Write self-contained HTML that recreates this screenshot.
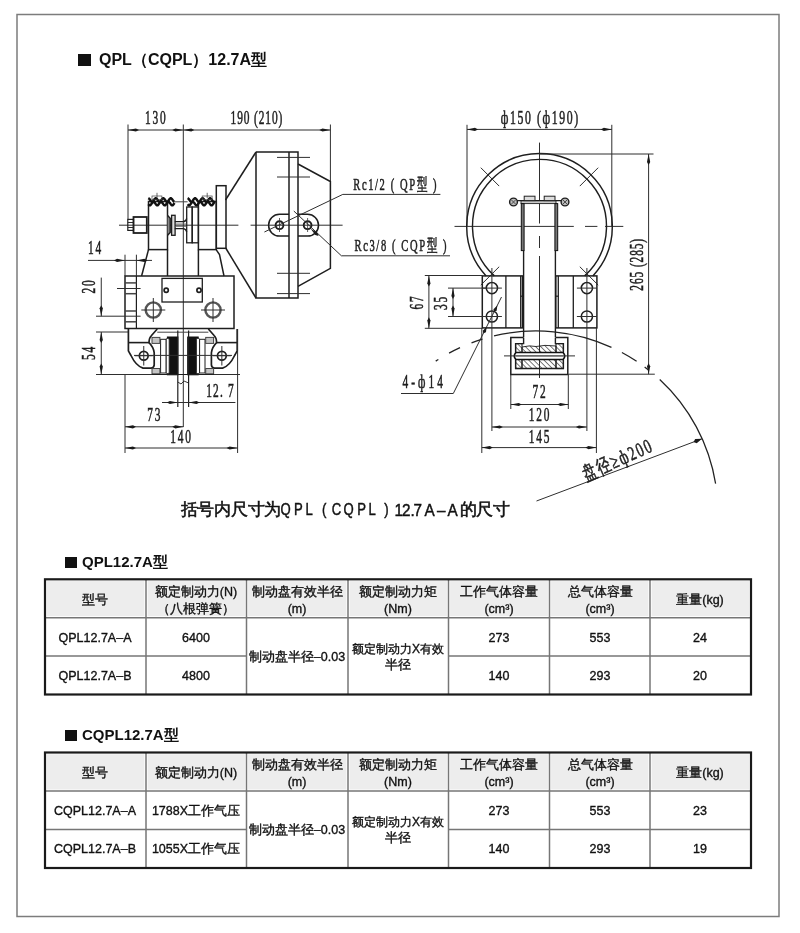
<!DOCTYPE html>
<html><head><meta charset="utf-8">
<style>
html,body{margin:0;padding:0;background:#fff;width:800px;height:933px;overflow:hidden;}
body{position:relative;font-family:"Liberation Sans",sans-serif;color:#1a1a1a;}
svg{position:absolute;left:0;top:0;will-change:transform;}
.ttl{position:absolute;font-weight:bold;font-size:15px;color:#111;white-space:nowrap;}
.sq{display:inline-block;width:12px;height:12px;background:#111;margin-right:6px;vertical-align:-1px;}
</style></head><body>
<svg width="800" height="933" viewBox="0 0 800 933">
  <!-- frame -->
  <rect x="17" y="14.5" width="762" height="902" fill="none" stroke="#7c7c7c" stroke-width="1.5"/>

  <g id="drawing">
<line x1="128" y1="124.5" x2="128" y2="219.5" stroke="#2e2e2e" stroke-width="1" fill="none" />
<line x1="183.3" y1="124.5" x2="183.3" y2="427" stroke="#2e2e2e" stroke-width="1" fill="none" />
<line x1="330.4" y1="124.5" x2="330.4" y2="181" stroke="#2e2e2e" stroke-width="1" fill="none" />
<line x1="128" y1="130" x2="183.3" y2="130" stroke="#2e2e2e" stroke-width="1" fill="none" />
<path d="M128.00,130.00 L135.92,128.40 L139.00,130.00 L135.92,131.60 Z" fill="#1a1a1a"/>
<path d="M183.30,130.00 L175.38,131.60 L172.30,130.00 L175.38,128.40 Z" fill="#1a1a1a"/>
<line x1="183.3" y1="130" x2="330.4" y2="130" stroke="#2e2e2e" stroke-width="1" fill="none" />
<path d="M183.30,130.00 L191.22,128.40 L194.30,130.00 L191.22,131.60 Z" fill="#1a1a1a"/>
<path d="M330.40,130.00 L322.48,131.60 L319.40,130.00 L322.48,128.40 Z" fill="#1a1a1a"/>
<text transform="translate(156.15,124.10) scale(0.6,1)" font-family="Liberation Serif" font-size="19" letter-spacing="3" text-anchor="middle" fill="#1e1e1e" stroke="#1e1e1e" stroke-width="0.55">130</text>
<text transform="translate(256.90,124.10) scale(0.6,1)" font-family="Liberation Serif" font-size="19" letter-spacing="1.5" text-anchor="middle" fill="#1e1e1e" stroke="#1e1e1e" stroke-width="0.55">190 (210)</text>
<line x1="119" y1="225.2" x2="238.4" y2="225.2" stroke="#2e2e2e" stroke-width="1" fill="none" />
<line x1="250.6" y1="225.2" x2="342.6" y2="225.2" stroke="#2e2e2e" stroke-width="1" fill="none" />
<path d="M256,152 L298,152 L298,298 L256,298 L256,152" stroke="#1e1e1e" stroke-width="1.5" fill="none"/>
<line x1="289" y1="152" x2="289" y2="298" stroke="#1e1e1e" stroke-width="1.5" fill="none"/>
<path d="M298,164 L330.4,181.5 L330.4,268.4 L298,286.3" stroke="#1e1e1e" stroke-width="1.5" fill="none"/>
<line x1="256" y1="152" x2="225.5" y2="200" stroke="#1e1e1e" stroke-width="1.5" fill="none"/>
<line x1="225.7" y1="248" x2="256" y2="298" stroke="#1e1e1e" stroke-width="1.5" fill="none"/>
<line x1="277" y1="157.4" x2="310" y2="157.4" stroke="#2e2e2e" stroke-width="1" fill="none" />
<line x1="277" y1="177" x2="310" y2="177" stroke="#2e2e2e" stroke-width="1" fill="none" />
<line x1="277" y1="273.3" x2="310" y2="273.3" stroke="#2e2e2e" stroke-width="1" fill="none" />
<line x1="277" y1="293.6" x2="310" y2="293.6" stroke="#2e2e2e" stroke-width="1" fill="none" />
<path d="M289,214.3 L279.5,214.3 A10.9,10.9 0 0 0 279.5,236.1 L289,236.1" stroke="#1e1e1e" stroke-width="1.5" fill="none"/>
<path d="M298,214.3 L307.6,214.3 A10.9,10.9 0 0 1 307.6,236.1 L298,236.1" stroke="#1e1e1e" stroke-width="1.5" fill="none"/>
<circle cx="279.5" cy="225.2" r="3.9" stroke="#1e1e1e" stroke-width="1.9" fill="none"/>
<line x1="279.5" y1="218" x2="279.5" y2="232" stroke="#333" stroke-width="0.8" />
<circle cx="307.6" cy="225.2" r="3.9" stroke="#1e1e1e" stroke-width="1.9" fill="none"/>
<line x1="307.6" y1="218" x2="307.6" y2="232" stroke="#333" stroke-width="0.8" />
<line x1="264.4" y1="232" x2="342.8" y2="194.4" stroke="#2e2e2e" stroke-width="1" fill="none" />
<line x1="342.8" y1="194.4" x2="440.4" y2="194.4" stroke="#2e2e2e" stroke-width="1" fill="none" />
<line x1="293.8" y1="211" x2="341.4" y2="255.8" stroke="#2e2e2e" stroke-width="1" fill="none" />
<line x1="341.4" y1="255.8" x2="450" y2="255.8" stroke="#2e2e2e" stroke-width="1" fill="none" />
<path d="M310.50,228.40 L317.32,232.70 L318.55,235.90 L315.27,234.90 Z" fill="#1a1a1a"/>
<text transform="translate(395.71,190.30) scale(0.62,1)" font-family="Liberation Serif" font-size="17" letter-spacing="2.6" text-anchor="middle" fill="#1e1e1e" stroke="#1e1e1e" stroke-width="0.55">Rc1/2 ( QP型 )</text>
<text transform="translate(401.31,250.80) scale(0.62,1)" font-family="Liberation Serif" font-size="17" letter-spacing="2.6" text-anchor="middle" fill="#1e1e1e" stroke="#1e1e1e" stroke-width="0.55">Rc3/8 ( CQP型 )</text>
<rect x="216.3" y="185.7" width="9.7" height="62.6" stroke="#1e1e1e" stroke-width="1.5" fill="none"/>
<rect x="127.8" y="219.4" width="5.7" height="11" stroke="#1e1e1e" stroke-width="1.2" fill="none"/>
<line x1="127.8" y1="222.5" x2="133.5" y2="222.5" stroke="#2e2e2e" stroke-width="1" fill="none" />
<line x1="127.8" y1="227.5" x2="133.5" y2="227.5" stroke="#2e2e2e" stroke-width="1" fill="none" />
<rect x="133.5" y="217" width="13.3" height="16" stroke="#1e1e1e" stroke-width="1.8" fill="none"/>
<rect x="148.5" y="201.5" width="19" height="48.1" stroke="#1e1e1e" stroke-width="1.5" fill="none"/>
<rect x="198.4" y="201.5" width="17.9" height="48.1" stroke="#1e1e1e" stroke-width="1.5" fill="none"/>
<rect x="186.7" y="207" width="5.5" height="35.8" stroke="#1e1e1e" stroke-width="1.3" fill="none"/>
<rect x="192.2" y="207" width="6.2" height="35.8" stroke="#1e1e1e" stroke-width="1.3" fill="none"/>
<rect x="171.6" y="215.3" width="3.5" height="20" stroke="#1e1e1e" stroke-width="1.3" fill="#ddd"/>
<path d="M167.6,215.5 L170.2,218.3 L170.2,232.5 L167.6,235.3" stroke="#1e1e1e" stroke-width="1.4" fill="#888"/>
<path d="M174.8,221.7 L183,221.7 Q186,221.7 186.7,218.5 M174.8,228.6 L183,228.6 Q186,228.6 186.7,231.8" stroke="#1e1e1e" stroke-width="1.3" fill="none"/>
<line x1="174.8" y1="224" x2="186.7" y2="224" stroke="#555" stroke-width="0.8" />
<line x1="174.8" y1="226.4" x2="186.7" y2="226.4" stroke="#555" stroke-width="0.8" />
<path d="M148.30,198.10 L149.24,198.66 L150.17,200.00 L151.11,201.34 L152.04,201.90 L152.98,201.34 L153.91,200.00 L154.85,198.66 L155.79,198.10 L156.72,198.66 L157.66,200.00 L158.59,201.34 L159.53,201.90 L160.46,201.34 L161.40,200.00 L162.34,198.66 L163.27,198.10 L164.21,198.66 L165.14,200.00 L166.08,201.34 L167.01,201.90 L167.95,201.34 L168.89,200.00 L169.82,198.66 L170.76,198.10 L171.69,198.66 L172.63,200.00 L173.56,201.34 L174.50,201.90" stroke="#111" stroke-width="2.4" fill="none" stroke-linejoin="round"/>
<path d="M148.30,204.19 L149.24,205.29 L150.17,205.41 L151.11,204.46 L152.04,203.01 L152.98,201.91 L153.91,201.79 L154.85,202.74 L155.79,204.19 L156.72,205.29 L157.66,205.41 L158.59,204.46 L159.53,203.01 L160.46,201.91 L161.40,201.79 L162.34,202.74 L163.27,204.19 L164.21,205.29 L165.14,205.41 L166.08,204.46 L167.01,203.01 L167.95,201.91 L168.89,201.79 L169.82,202.74 L170.76,204.19 L171.69,205.29 L172.63,205.41 L173.56,204.46 L174.50,203.01" stroke="#111" stroke-width="2.4" fill="none" stroke-linejoin="round"/>
<path d="M187.60,198.10 L188.54,198.66 L189.47,200.00 L190.41,201.34 L191.34,201.90 L192.28,201.34 L193.21,200.00 L194.15,198.66 L195.09,198.10 L196.02,198.66 L196.96,200.00 L197.89,201.34 L198.83,201.90 L199.77,201.34 L200.70,200.00 L201.64,198.66 L202.57,198.10 L203.51,198.66 L204.44,200.00 L205.38,201.34 L206.32,201.90 L207.25,201.34 L208.19,200.00 L209.12,198.66 L210.06,198.10 L211.00,198.66 L211.93,200.00 L212.87,201.34 L213.80,201.90 L214.74,201.34" stroke="#111" stroke-width="2.4" fill="none" stroke-linejoin="round"/>
<path d="M187.60,204.19 L188.54,205.29 L189.47,205.41 L190.41,204.46 L191.34,203.01 L192.28,201.91 L193.21,201.79 L194.15,202.74 L195.09,204.19 L196.02,205.29 L196.96,205.41 L197.89,204.46 L198.83,203.01 L199.77,201.91 L200.70,201.79 L201.64,202.74 L202.57,204.19 L203.51,205.29 L204.44,205.41 L205.38,204.46 L206.32,203.01 L207.25,201.91 L208.19,201.79 L209.12,202.74 L210.06,204.19 L211.00,205.29 L211.93,205.41 L212.87,204.46 L213.80,203.01 L214.74,201.91" stroke="#111" stroke-width="2.4" fill="none" stroke-linejoin="round"/>
<line x1="174.5" y1="201.8" x2="187.6" y2="201.8" stroke="#444" stroke-width="1" />
<rect x="152" y="196" width="9.9" height="3.7" stroke="#444" stroke-width="0.7" fill="none"/>
<line x1="157" y1="192.8" x2="157" y2="198" stroke="#444" stroke-width="0.8" />
<rect x="202.2" y="196" width="9.9" height="3.7" stroke="#444" stroke-width="0.7" fill="none"/>
<line x1="207.2" y1="192.8" x2="207.2" y2="198" stroke="#444" stroke-width="0.8" />
<line x1="148.5" y1="249.6" x2="141.6" y2="276" stroke="#1e1e1e" stroke-width="1.5" fill="none"/>
<line x1="167.5" y1="249.6" x2="167.5" y2="276" stroke="#1e1e1e" stroke-width="1.5" fill="none"/>
<line x1="198.4" y1="249.6" x2="198.4" y2="276" stroke="#1e1e1e" stroke-width="1.5" fill="none"/>
<path d="M216.3,249.8 L219.5,254.5 L224,276" stroke="#1e1e1e" stroke-width="1.5" fill="none"/>
<rect x="125" y="276" width="109" height="52.5" stroke="#1e1e1e" stroke-width="1.5" fill="none"/>
<line x1="136.4" y1="276" x2="136.4" y2="328.5" stroke="#1e1e1e" stroke-width="1.2" fill="none"/>
<line x1="125" y1="282.9" x2="136.4" y2="282.9" stroke="#444" stroke-width="1.5" />
<line x1="125" y1="293.7" x2="136.4" y2="293.7" stroke="#444" stroke-width="1.5" />
<line x1="125" y1="311" x2="136.4" y2="311" stroke="#444" stroke-width="1.5" />
<line x1="125" y1="321.8" x2="136.4" y2="321.8" stroke="#444" stroke-width="1.5" />
<rect x="162" y="278.4" width="40.3" height="23.6" stroke="#1e1e1e" stroke-width="1.3" fill="none"/>
<circle cx="166.2" cy="290.2" r="2.1" stroke="#1e1e1e" stroke-width="1.7" fill="none"/>
<circle cx="199" cy="290.2" r="2.1" stroke="#1e1e1e" stroke-width="1.7" fill="none"/>
<circle cx="153.3" cy="310" r="7.6" stroke="#555" stroke-width="2.4" fill="none"/>
<line x1="141.3" y1="310" x2="165.3" y2="310" stroke="#2e2e2e" stroke-width="1" fill="none" />
<line x1="153.3" y1="298" x2="153.3" y2="322" stroke="#2e2e2e" stroke-width="1" fill="none" />
<circle cx="213" cy="310" r="7.6" stroke="#555" stroke-width="2.4" fill="none"/>
<line x1="201" y1="310" x2="225" y2="310" stroke="#2e2e2e" stroke-width="1" fill="none" />
<line x1="213" y1="298" x2="213" y2="322" stroke="#2e2e2e" stroke-width="1" fill="none" />
<line x1="125" y1="254.7" x2="125" y2="276" stroke="#2e2e2e" stroke-width="1" fill="none" />
<line x1="136.4" y1="254.7" x2="136.4" y2="276" stroke="#2e2e2e" stroke-width="1" fill="none" />
<line x1="88" y1="260.4" x2="152" y2="260.4" stroke="#2e2e2e" stroke-width="1" fill="none" />
<path d="M125.00,260.40 L117.08,262.00 L114.00,260.40 L117.08,258.80 Z" fill="#1a1a1a"/>
<path d="M136.40,260.40 L144.32,258.80 L147.40,260.40 L144.32,262.00 Z" fill="#1a1a1a"/>
<text transform="translate(95.40,253.60) scale(0.6,1)" font-family="Liberation Serif" font-size="19" letter-spacing="3" text-anchor="middle" fill="#1e1e1e" stroke="#1e1e1e" stroke-width="0.55">14</text>
<line x1="117" y1="288.5" x2="140.6" y2="288.5" stroke="#2e2e2e" stroke-width="1" fill="none" />
<line x1="96" y1="316.2" x2="140.6" y2="316.2" stroke="#2e2e2e" stroke-width="1" fill="none" />
<line x1="101.25" y1="277.6" x2="101.25" y2="316.2" stroke="#2e2e2e" stroke-width="1" fill="none" />
<path d="M101.25,316.20 L99.65,308.28 L101.25,305.20 L102.85,308.28 Z" fill="#1a1a1a"/>
<text transform="translate(94.80,285.90) rotate(-90) scale(0.6,1)" font-family="Liberation Serif" font-size="19" letter-spacing="3" text-anchor="middle" fill="#1e1e1e" stroke="#1e1e1e" stroke-width="0.55">20</text>
<line x1="96" y1="374.5" x2="240" y2="374.5" stroke="#2e2e2e" stroke-width="1" fill="none" />
<line x1="101.25" y1="332" x2="101.25" y2="374.5" stroke="#2e2e2e" stroke-width="1" fill="none" />
<path d="M101.25,332.00 L102.85,339.92 L101.25,343.00 L99.65,339.92 Z" fill="#1a1a1a"/>
<path d="M101.25,374.50 L99.65,366.58 L101.25,363.50 L102.85,366.58 Z" fill="#1a1a1a"/>
<text transform="translate(95.00,352.60) rotate(-90) scale(0.6,1)" font-family="Liberation Serif" font-size="19" letter-spacing="3" text-anchor="middle" fill="#1e1e1e" stroke="#1e1e1e" stroke-width="0.55">54</text>
<path d="M128.4,329 L128.4,350.9 Q129.5,353 131,355.5 Q136,366 143,368.1 L151.25,368.1 Q154.2,367.5 154.2,364.75 L154.2,352.75 Q153.5,347 149,342.6 Q149,338 151.5,335.5 L157.25,329" stroke="#1e1e1e" stroke-width="1.7" fill="none"/>
<path d="M 237.20,329.0 L 237.20,350.9 Q 236.10,353.0 234.60,355.5 Q 229.60,366.0 222.60,368.1 L 214.35,368.1 Q 211.40,367.5 211.40,364.75 L 211.40,352.75 Q 212.10,347.0 216.60,342.6 Q 216.60,338.0 214.10,335.5 L 208.35,329.0" stroke="#1e1e1e" stroke-width="1.7" fill="none"/>
<line x1="128.4" y1="342.6" x2="149" y2="342.6" stroke="#1e1e1e" stroke-width="1.6" />
<line x1="237.20000000000002" y1="342.6" x2="216.60000000000002" y2="342.6" stroke="#1e1e1e" stroke-width="1.6" />
<line x1="96" y1="332" x2="128.4" y2="332" stroke="#2e2e2e" stroke-width="1" fill="none" />
<line x1="157.25" y1="332.2" x2="208.35" y2="332.2" stroke="#444" stroke-width="1" />
<circle cx="143.75" cy="355.75" r="4.4" stroke="#1e1e1e" stroke-width="1.7" fill="none"/>
<line x1="134.75" y1="355.75" x2="152.75" y2="355.75" stroke="#2e2e2e" stroke-width="1" fill="none" />
<line x1="143.75" y1="346" x2="143.75" y2="365.5" stroke="#2e2e2e" stroke-width="1" fill="none" />
<circle cx="221.85000000000002" cy="355.75" r="4.4" stroke="#1e1e1e" stroke-width="1.7" fill="none"/>
<line x1="212.85000000000002" y1="355.75" x2="230.85000000000002" y2="355.75" stroke="#2e2e2e" stroke-width="1" fill="none" />
<line x1="221.85000000000002" y1="346" x2="221.85000000000002" y2="365.5" stroke="#2e2e2e" stroke-width="1" fill="none" />
<rect x="167.4" y="337" width="10.5" height="37.8" stroke="#111" stroke-width="1" fill="#111"/>
<rect x="187.70000000000002" y="337" width="10.5" height="37.8" stroke="#111" stroke-width="1" fill="#111"/>
<rect x="166.0" y="338.5" width="3.1999999999999886" height="35" stroke="#222" stroke-width="0.9" fill="#fff" rx="1.2"/>
<rect x="196.40000000000003" y="338.5" width="3.1999999999999886" height="35" stroke="#222" stroke-width="0.9" fill="#fff" rx="1.2"/>
<rect x="160.6" y="339.3" width="5.400000000000006" height="33.7" stroke="#1e1e1e" stroke-width="1" fill="#fff"/>
<rect x="199.60000000000002" y="339.3" width="5.400000000000006" height="33.7" stroke="#1e1e1e" stroke-width="1" fill="#fff"/>
<rect x="152" y="337.4" width="7.900000000000006" height="6" stroke="#444" stroke-width="1" fill="#c4c4c4"/>
<rect x="152" y="368.5" width="7.900000000000006" height="5.3" stroke="#444" stroke-width="1" fill="#c4c4c4"/>
<rect x="205.70000000000002" y="337.4" width="7.900000000000006" height="6" stroke="#444" stroke-width="1" fill="#c4c4c4"/>
<rect x="205.70000000000002" y="368.5" width="7.900000000000006" height="5.3" stroke="#444" stroke-width="1" fill="#c4c4c4"/>
<line x1="152" y1="374.5" x2="214" y2="374.5" stroke="#1e1e1e" stroke-width="1.2" />
<line x1="177.8" y1="330.5" x2="177.8" y2="407" stroke="#1e1e1e" stroke-width="1.2" fill="none"/>
<line x1="188.6" y1="330.5" x2="188.6" y2="407" stroke="#1e1e1e" stroke-width="1.2" fill="none"/>
<path d="M177.8,382 L181,384 L184,381 L188.6,383" stroke="#222" stroke-width="0.9" fill="none"/>
<line x1="134" y1="355.4" x2="232" y2="355.4" stroke="#2e2e2e" stroke-width="1" fill="none" />
<line x1="162" y1="402.5" x2="235.4" y2="402.5" stroke="#2e2e2e" stroke-width="1" fill="none" />
<path d="M177.80,402.50 L169.88,404.10 L166.80,402.50 L169.88,400.90 Z" fill="#1a1a1a"/>
<path d="M188.60,402.50 L196.52,400.90 L199.60,402.50 L196.52,404.10 Z" fill="#1a1a1a"/>
<text transform="translate(220.60,396.60) scale(0.6,1)" font-family="Liberation Serif" font-size="19" letter-spacing="2" text-anchor="middle" fill="#1e1e1e" stroke="#1e1e1e" stroke-width="0.55">12. 7</text>
<line x1="125" y1="374" x2="125" y2="453" stroke="#2e2e2e" stroke-width="1" fill="none" />
<line x1="237.6" y1="329" x2="237.6" y2="453" stroke="#2e2e2e" stroke-width="1" fill="none" />
<line x1="125" y1="426.8" x2="183.3" y2="426.8" stroke="#2e2e2e" stroke-width="1" fill="none" />
<path d="M125.00,426.80 L132.92,425.20 L136.00,426.80 L132.92,428.40 Z" fill="#1a1a1a"/>
<path d="M183.30,426.80 L175.38,428.40 L172.30,426.80 L175.38,425.20 Z" fill="#1a1a1a"/>
<text transform="translate(154.70,420.50) scale(0.6,1)" font-family="Liberation Serif" font-size="19" letter-spacing="3" text-anchor="middle" fill="#1e1e1e" stroke="#1e1e1e" stroke-width="0.55">73</text>
<line x1="125" y1="448" x2="237.6" y2="448" stroke="#2e2e2e" stroke-width="1" fill="none" />
<path d="M125.00,448.00 L132.92,446.40 L136.00,448.00 L132.92,449.60 Z" fill="#1a1a1a"/>
<path d="M237.60,448.00 L229.68,449.60 L226.60,448.00 L229.68,446.40 Z" fill="#1a1a1a"/>
<text transform="translate(181.40,443.00) scale(0.6,1)" font-family="Liberation Serif" font-size="19" letter-spacing="3" text-anchor="middle" fill="#1e1e1e" stroke="#1e1e1e" stroke-width="0.55">140</text>
<line x1="467" y1="124.8" x2="467" y2="226" stroke="#2e2e2e" stroke-width="1" fill="none" />
<line x1="611.8" y1="124.8" x2="611.8" y2="226" stroke="#2e2e2e" stroke-width="1" fill="none" />
<line x1="467" y1="129.4" x2="611.8" y2="129.4" stroke="#2e2e2e" stroke-width="1" fill="none" />
<path d="M467.00,129.40 L474.92,127.80 L478.00,129.40 L474.92,131.00 Z" fill="#1a1a1a"/>
<path d="M611.80,129.40 L603.88,131.00 L600.80,129.40 L603.88,127.80 Z" fill="#1a1a1a"/>
<text transform="translate(540.31,123.80) scale(0.62,1)" font-family="Liberation Serif" font-size="19" letter-spacing="2.6" text-anchor="middle" fill="#1e1e1e" stroke="#1e1e1e" stroke-width="0.55">ф150 (ф190)</text>
<line x1="539.5" y1="142.6" x2="539.5" y2="223.5" stroke="#2e2e2e" stroke-width="1" fill="none" />
<line x1="539.5" y1="236" x2="539.5" y2="248" stroke="#2e2e2e" stroke-width="1" fill="none" />
<line x1="539.5" y1="256" x2="539.5" y2="378" stroke="#2e2e2e" stroke-width="1" fill="none" />
<line x1="454.5" y1="226.4" x2="573.8" y2="226.4" stroke="#2e2e2e" stroke-width="1" fill="none" />
<line x1="585" y1="226.4" x2="597.4" y2="226.4" stroke="#2e2e2e" stroke-width="1" fill="none" />
<line x1="605" y1="226.4" x2="623.3" y2="226.4" stroke="#2e2e2e" stroke-width="1" fill="none" />
<path d="M486.12,275.90 A72.8,72.8 0 1 1 592.88,275.90" stroke="#1e1e1e" stroke-width="1.45" fill="none"/>
<path d="M494.35,275.90 A67,67 0 1 1 584.65,275.90" stroke="#1e1e1e" stroke-width="1.45" fill="none"/>
<line x1="499.1949134723668" y1="186.09491347236678" x2="480.81013716151654" y2="167.71013716151657" stroke="#2e2e2e" stroke-width="1" fill="none" />
<line x1="579.8050865276332" y1="186.09491347236678" x2="598.1898628384834" y2="167.71013716151657" stroke="#2e2e2e" stroke-width="1" fill="none" />
<line x1="499.1949134723668" y1="266.70508652763317" x2="480.81013716151654" y2="285.08986283848344" stroke="#2e2e2e" stroke-width="1" fill="none" />
<line x1="579.8050865276332" y1="266.7050865276332" x2="598.1898628384834" y2="285.0898628384835" stroke="#2e2e2e" stroke-width="1" fill="none" />
<rect x="521" y="200.6" width="35" height="3" stroke="#222" stroke-width="0.9" fill="#c8c8c8"/>
<line x1="513.5" y1="200.6" x2="565" y2="200.6" stroke="#1e1e1e" stroke-width="1.2" />
<circle cx="513.5" cy="202" r="3.9" stroke="#1e1e1e" stroke-width="1.4" fill="#bbb"/>
<line x1="511.0" y1="199.5" x2="516.0" y2="204.5" stroke="#333" stroke-width="0.8" />
<line x1="511.0" y1="204.5" x2="516.0" y2="199.5" stroke="#333" stroke-width="0.8" />
<circle cx="565" cy="202" r="3.9" stroke="#1e1e1e" stroke-width="1.4" fill="#bbb"/>
<line x1="562.5" y1="199.5" x2="567.5" y2="204.5" stroke="#333" stroke-width="0.8" />
<line x1="562.5" y1="204.5" x2="567.5" y2="199.5" stroke="#333" stroke-width="0.8" />
<rect x="524.2" y="196.2" width="10.8" height="4.4" stroke="#222" stroke-width="1" fill="#ddd"/>
<rect x="544.2" y="196.2" width="10.8" height="4.4" stroke="#222" stroke-width="1" fill="#ddd"/>
<rect x="521.3" y="203.6" width="2.8" height="47" stroke="#111" stroke-width="1" fill="#777"/>
<rect x="554.9" y="203.6" width="2.8" height="47" stroke="#111" stroke-width="1" fill="#777"/>
<line x1="523.6" y1="250.5" x2="523.6" y2="337" stroke="#1e1e1e" stroke-width="1.4" fill="none"/>
<line x1="555.4" y1="250.5" x2="555.4" y2="337" stroke="#1e1e1e" stroke-width="1.4" fill="none"/>
<rect x="482.3" y="275.9" width="40.19999999999999" height="52" stroke="#1e1e1e" stroke-width="1.5" fill="none"/>
<line x1="505.9" y1="275.9" x2="505.9" y2="327.9" stroke="#1e1e1e" stroke-width="1.3" fill="none"/>
<line x1="520.7" y1="275.9" x2="520.7" y2="327.9" stroke="#1e1e1e" stroke-width="1.3" fill="none"/>
<line x1="520.7" y1="296.2" x2="523.4" y2="296.2" stroke="#1e1e1e" stroke-width="1.2" />
<rect x="555.8" y="275.9" width="41.10000000000002" height="52" stroke="#1e1e1e" stroke-width="1.5" fill="none"/>
<line x1="573.3" y1="275.9" x2="573.3" y2="327.9" stroke="#1e1e1e" stroke-width="1.3" fill="none"/>
<line x1="558.3" y1="275.9" x2="558.3" y2="327.9" stroke="#1e1e1e" stroke-width="1.3" fill="none"/>
<line x1="555.8" y1="296.2" x2="558.3" y2="296.2" stroke="#1e1e1e" stroke-width="1.2" />
<circle cx="491.9" cy="288.1" r="5.6" stroke="#1e1e1e" stroke-width="1.5" fill="none"/>
<line x1="481.9" y1="288.1" x2="501.9" y2="288.1" stroke="#2e2e2e" stroke-width="1" fill="none" />
<circle cx="491.9" cy="316.5" r="5.6" stroke="#1e1e1e" stroke-width="1.5" fill="none"/>
<line x1="481.9" y1="316.5" x2="501.9" y2="316.5" stroke="#2e2e2e" stroke-width="1" fill="none" />
<line x1="491.9" y1="268" x2="491.9" y2="336" stroke="#2e2e2e" stroke-width="1" fill="none" />
<circle cx="586.9" cy="288.1" r="5.6" stroke="#1e1e1e" stroke-width="1.5" fill="none"/>
<line x1="576.9" y1="288.1" x2="596.9" y2="288.1" stroke="#2e2e2e" stroke-width="1" fill="none" />
<circle cx="586.9" cy="316.5" r="5.6" stroke="#1e1e1e" stroke-width="1.5" fill="none"/>
<line x1="576.9" y1="316.5" x2="596.9" y2="316.5" stroke="#2e2e2e" stroke-width="1" fill="none" />
<line x1="586.9" y1="268" x2="586.9" y2="336" stroke="#2e2e2e" stroke-width="1" fill="none" />
<path d="M523.6,337.5 L510.8,337.5 L510.8,374.4 L567.8,374.4 L567.8,337.5 L555.4,337.5" stroke="#1e1e1e" stroke-width="1.5" fill="none"/>
<path d="M523.6,337.5 L523.6,343.6 L515.6,343.6 L515.6,368.5 L563.4,368.5 L563.4,343.6 L555.4,343.6 L555.4,337.5" stroke="#1e1e1e" stroke-width="1.4" fill="none"/>
<defs><pattern id="hat" width="3.6" height="3.6" patternUnits="userSpaceOnUse" patternTransform="rotate(-45)"><line x1="0" y1="0" x2="0" y2="3.6" stroke="#222" stroke-width="1.2"/></pattern></defs>
<path d="M522,347 Q530,345 536,346.5 Q544,344.5 556,346 L556,352.5 L522,352.5 Z" stroke="#1e1e1e" stroke-width="0.9" fill="url(#hat)"/>
<rect x="522" y="359.5" width="34" height="9" stroke="#1e1e1e" stroke-width="0.9" fill="url(#hat)"/>
<rect x="515.6" y="343.6" width="6.4" height="24.9" stroke="#1e1e1e" stroke-width="1.1" fill="url(#hat)"/>
<rect x="556" y="343.6" width="7.4" height="24.9" stroke="#1e1e1e" stroke-width="1.1" fill="url(#hat)"/>
<path d="M516,352.5 L563,352.5 Q566.5,356 563,359.5 L516,359.5 Q512.5,356 516,352.5 Z" stroke="#111" stroke-width="1.6" fill="#fff"/>
<line x1="516" y1="356" x2="563" y2="356" stroke="#555" stroke-width="0.6" />
<line x1="504" y1="355.9" x2="575" y2="355.9" stroke="#2e2e2e" stroke-width="1" fill="none" />
<line x1="424.8" y1="275.5" x2="482.3" y2="275.5" stroke="#2e2e2e" stroke-width="1" fill="none" />
<line x1="424.8" y1="328.3" x2="482.3" y2="328.3" stroke="#2e2e2e" stroke-width="1" fill="none" />
<line x1="428.9" y1="275.5" x2="428.9" y2="328.3" stroke="#2e2e2e" stroke-width="1" fill="none" />
<path d="M428.90,275.50 L430.50,283.42 L428.90,286.50 L427.30,283.42 Z" fill="#1a1a1a"/>
<path d="M428.90,328.30 L427.30,320.38 L428.90,317.30 L430.50,320.38 Z" fill="#1a1a1a"/>
<text transform="translate(423.00,302.10) rotate(-90) scale(0.6,1)" font-family="Liberation Serif" font-size="19" letter-spacing="3" text-anchor="middle" fill="#1e1e1e" stroke="#1e1e1e" stroke-width="0.55">67</text>
<line x1="448" y1="288.1" x2="486" y2="288.1" stroke="#2e2e2e" stroke-width="1" fill="none" />
<line x1="448" y1="316.5" x2="486" y2="316.5" stroke="#2e2e2e" stroke-width="1" fill="none" />
<line x1="453" y1="288.1" x2="453" y2="316.5" stroke="#2e2e2e" stroke-width="1" fill="none" />
<path d="M453.00,288.10 L454.60,296.02 L453.00,299.10 L451.40,296.02 Z" fill="#1a1a1a"/>
<path d="M453.00,316.50 L451.40,308.58 L453.00,305.50 L454.60,308.58 Z" fill="#1a1a1a"/>
<text transform="translate(446.60,302.50) rotate(-90) scale(0.6,1)" font-family="Liberation Serif" font-size="19" letter-spacing="3" text-anchor="middle" fill="#1e1e1e" stroke="#1e1e1e" stroke-width="0.55">35</text>
<line x1="539.5" y1="154" x2="653.5" y2="154" stroke="#2e2e2e" stroke-width="1" fill="none" />
<line x1="568.3" y1="374.2" x2="654.8" y2="374.2" stroke="#2e2e2e" stroke-width="1" fill="none" />
<line x1="648.6" y1="154" x2="648.6" y2="374.2" stroke="#2e2e2e" stroke-width="1" fill="none" />
<path d="M648.60,154.00 L650.20,161.92 L648.60,165.00 L647.00,161.92 Z" fill="#1a1a1a"/>
<path d="M648.60,374.20 L647.00,366.28 L648.60,363.20 L650.20,366.28 Z" fill="#1a1a1a"/>
<text transform="translate(642.50,264.30) rotate(-90) scale(0.6,1)" font-family="Liberation Serif" font-size="19" letter-spacing="1.5" text-anchor="middle" fill="#1e1e1e" stroke="#1e1e1e" stroke-width="0.55">265 (285)</text>
<line x1="501.5" y1="297" x2="453.3" y2="393.5" stroke="#2e2e2e" stroke-width="1" fill="none" />
<line x1="453.3" y1="393.5" x2="401" y2="393.5" stroke="#2e2e2e" stroke-width="1" fill="none" />
<path d="M497.30,305.50 L496.66,310.81 L494.17,311.76 L493.44,309.20 Z" fill="#1a1a1a"/>
<path d="M486.60,327.00 L485.96,332.31 L483.47,333.26 L482.74,330.70 Z" fill="#1a1a1a"/>
<text transform="translate(424.25,387.75) scale(0.6,1)" font-family="Liberation Serif" font-size="19" letter-spacing="5" text-anchor="middle" fill="#1e1e1e" stroke="#1e1e1e" stroke-width="0.55">4-ф14</text>
<line x1="510.8" y1="374.2" x2="510.8" y2="409" stroke="#2e2e2e" stroke-width="1" fill="none" />
<line x1="568.3" y1="374.2" x2="568.3" y2="409" stroke="#2e2e2e" stroke-width="1" fill="none" />
<line x1="510.8" y1="404.5" x2="568.3" y2="404.5" stroke="#2e2e2e" stroke-width="1" fill="none" />
<path d="M510.80,404.50 L518.72,402.90 L521.80,404.50 L518.72,406.10 Z" fill="#1a1a1a"/>
<path d="M568.30,404.50 L560.38,406.10 L557.30,404.50 L560.38,402.90 Z" fill="#1a1a1a"/>
<text transform="translate(540.10,398.00) scale(0.6,1)" font-family="Liberation Serif" font-size="19" letter-spacing="3" text-anchor="middle" fill="#1e1e1e" stroke="#1e1e1e" stroke-width="0.55">72</text>
<line x1="491.9" y1="336" x2="491.9" y2="431" stroke="#2e2e2e" stroke-width="1" fill="none" />
<line x1="586.9" y1="336" x2="586.9" y2="431" stroke="#2e2e2e" stroke-width="1" fill="none" />
<line x1="491.9" y1="427" x2="586.9" y2="427" stroke="#2e2e2e" stroke-width="1" fill="none" />
<path d="M491.90,427.00 L499.82,425.40 L502.90,427.00 L499.82,428.60 Z" fill="#1a1a1a"/>
<path d="M586.90,427.00 L578.98,428.60 L575.90,427.00 L578.98,425.40 Z" fill="#1a1a1a"/>
<text transform="translate(539.90,421.00) scale(0.6,1)" font-family="Liberation Serif" font-size="19" letter-spacing="3" text-anchor="middle" fill="#1e1e1e" stroke="#1e1e1e" stroke-width="0.55">120</text>
<line x1="481.8" y1="328" x2="481.8" y2="453" stroke="#2e2e2e" stroke-width="1" fill="none" />
<line x1="596.4" y1="328" x2="596.4" y2="453" stroke="#2e2e2e" stroke-width="1" fill="none" />
<line x1="481.8" y1="447.6" x2="596.4" y2="447.6" stroke="#2e2e2e" stroke-width="1" fill="none" />
<path d="M481.80,447.60 L489.72,446.00 L492.80,447.60 L489.72,449.20 Z" fill="#1a1a1a"/>
<path d="M596.40,447.60 L588.48,449.20 L585.40,447.60 L588.48,446.00 Z" fill="#1a1a1a"/>
<text transform="translate(539.90,443.00) scale(0.6,1)" font-family="Liberation Serif" font-size="19" letter-spacing="3" text-anchor="middle" fill="#1e1e1e" stroke="#1e1e1e" stroke-width="0.55">145</text>
<path d="M435.73,361.11 A182,182 0 0 1 438.35,359.41" stroke="#222" stroke-width="1.25" fill="none"/>
<path d="M449.08,353.10 A182,182 0 0 1 460.02,347.62" stroke="#222" stroke-width="1.25" fill="none"/>
<path d="M471.52,342.81 A182,182 0 0 1 482.41,339.07" stroke="#222" stroke-width="1.25" fill="none"/>
<path d="M494.02,335.91 A182,182 0 0 1 611.47,347.39" stroke="#222" stroke-width="1.25" fill="none"/>
<path d="M621.92,352.56 A182,182 0 0 1 636.61,361.34" stroke="#222" stroke-width="1.25" fill="none"/>
<path d="M644.64,366.99 A182,182 0 0 1 648.97,370.30" stroke="#222" stroke-width="1.25" fill="none"/>
<path d="M659.73,379.52 A182,182 0 0 1 715.61,483.63" stroke="#222" stroke-width="1.25" fill="none"/>
<line x1="536.5" y1="501" x2="702" y2="438.8" stroke="#2e2e2e" stroke-width="1" fill="none" />
<path d="M702.00,438.80 L696.71,443.14 L693.58,441.97 L695.16,439.02 Z" fill="#1a1a1a"/>
<text transform="translate(620.28,465.65) rotate(-24) scale(0.68,1)" font-family="Liberation Serif" font-size="20" letter-spacing="2.5" text-anchor="middle" fill="#1e1e1e" stroke="#1e1e1e" stroke-width="0.55">盘径≥ф200</text>
  </g>
<rect x="46.8" y="581.0999999999999" width="97.60" height="35.10" fill="#ededed"/>
<rect x="147.6" y="581.0999999999999" width="97.30" height="35.10" fill="#ededed"/>
<rect x="248.1" y="581.0999999999999" width="98.30" height="35.10" fill="#ededed"/>
<rect x="349.6" y="581.0999999999999" width="97.30" height="35.10" fill="#ededed"/>
<rect x="450.1" y="581.0999999999999" width="97.80" height="35.10" fill="#ededed"/>
<rect x="551.1" y="581.0999999999999" width="97.30" height="35.10" fill="#ededed"/>
<rect x="651.6" y="581.0999999999999" width="97.60" height="35.10" fill="#ededed"/>
<line x1="146" y1="579.3" x2="146" y2="694.5" stroke="#767676" stroke-width="1.5"/>
<line x1="246.5" y1="579.3" x2="246.5" y2="694.5" stroke="#767676" stroke-width="1.5"/>
<line x1="348" y1="579.3" x2="348" y2="694.5" stroke="#767676" stroke-width="1.5"/>
<line x1="448.5" y1="579.3" x2="448.5" y2="694.5" stroke="#767676" stroke-width="1.5"/>
<line x1="549.5" y1="579.3" x2="549.5" y2="694.5" stroke="#767676" stroke-width="1.5"/>
<line x1="650" y1="579.3" x2="650" y2="694.5" stroke="#767676" stroke-width="1.5"/>
<line x1="45" y1="617.8" x2="751" y2="617.8" stroke="#767676" stroke-width="1.5"/>
<line x1="45" y1="656.1" x2="246.5" y2="656.1" stroke="#767676" stroke-width="1.5"/>
<line x1="448.5" y1="656.1" x2="751" y2="656.1" stroke="#767676" stroke-width="1.5"/>
<rect x="45" y="579.3" width="706" height="115.20000000000005" fill="none" stroke="#1a1a1a" stroke-width="2.2"/>
<rect x="46.8" y="754.3" width="97.60" height="35.20" fill="#ededed"/>
<rect x="147.6" y="754.3" width="97.30" height="35.20" fill="#ededed"/>
<rect x="248.1" y="754.3" width="98.30" height="35.20" fill="#ededed"/>
<rect x="349.6" y="754.3" width="97.30" height="35.20" fill="#ededed"/>
<rect x="450.1" y="754.3" width="97.80" height="35.20" fill="#ededed"/>
<rect x="551.1" y="754.3" width="97.30" height="35.20" fill="#ededed"/>
<rect x="651.6" y="754.3" width="97.60" height="35.20" fill="#ededed"/>
<line x1="146" y1="752.5" x2="146" y2="868" stroke="#767676" stroke-width="1.5"/>
<line x1="246.5" y1="752.5" x2="246.5" y2="868" stroke="#767676" stroke-width="1.5"/>
<line x1="348" y1="752.5" x2="348" y2="868" stroke="#767676" stroke-width="1.5"/>
<line x1="448.5" y1="752.5" x2="448.5" y2="868" stroke="#767676" stroke-width="1.5"/>
<line x1="549.5" y1="752.5" x2="549.5" y2="868" stroke="#767676" stroke-width="1.5"/>
<line x1="650" y1="752.5" x2="650" y2="868" stroke="#767676" stroke-width="1.5"/>
<line x1="45" y1="791.1" x2="751" y2="791.1" stroke="#767676" stroke-width="1.5"/>
<line x1="45" y1="829.5" x2="246.5" y2="829.5" stroke="#767676" stroke-width="1.5"/>
<line x1="448.5" y1="829.5" x2="751" y2="829.5" stroke="#767676" stroke-width="1.5"/>
<rect x="45" y="752.5" width="706" height="115.5" fill="none" stroke="#1a1a1a" stroke-width="2.2"/>
<text x="180.95 196.70 213.90 231.20 248.40 264.20" y="514.8" font-family="Liberation Sans" font-size="16.6" fill="#111" stroke="#111" stroke-width="0.55">括号内尺寸为</text>
<text transform="scale(0.82,1)" x="342.20 358.66 372.68 392.80 404.63 418.78 435.73 449.51 468.66" y="515.5" font-family="Liberation Sans" font-size="16" fill="#111" stroke="#111" stroke-width="0.45">QPL(CQPL)</text>
<text transform="scale(0.9,1)" x="438.44 446.56 456.00 459.33 471.78 485.44 497.11" y="515.8" font-family="Liberation Sans" font-size="17" fill="#111" stroke="#111" stroke-width="0.45">12.7A–A</text>
<text x="459.70 476.20 492.95" y="514.8" font-family="Liberation Sans" font-size="16.6" fill="#111" stroke="#111" stroke-width="0.55">的尺寸</text>
  <g font-family="Liberation Sans" font-size="12.5" fill="#111" stroke="#111" stroke-width="0.35" text-anchor="middle">
    <!-- t1 header -->
    <text x="95" y="604">型号</text>
    <text x="196" y="595.5">额定制动力(N)</text>
    <text x="196" y="612.5">（八根弹簧）</text>
    <text x="297" y="595.5">制动盘有效半径</text>
    <text x="297" y="612.5">(m)</text>
    <text x="398" y="595.5">额定制动力矩</text>
    <text x="398" y="612.5">(Nm)</text>
    <text x="499" y="595.5">工作气体容量</text>
    <text x="499" y="612.5">(cm³)</text>
    <text x="600" y="595.5">总气体容量</text>
    <text x="600" y="612.5">(cm³)</text>
    <text x="700" y="604">重量(kg)</text>
    <!-- t1 rows -->
    <text x="95" y="642">QPL12.7A–A</text>
    <text x="196" y="642">6400</text>
    <text x="95" y="680">QPL12.7A–B</text>
    <text x="196" y="680">4800</text>
    <text x="297" y="661">制动盘半径–0.03</text>
    <text x="398" y="653" font-size="12">额定制动力X有效</text>
    <text x="398" y="669">半径</text>
    <text x="499" y="642">273</text>
    <text x="600" y="642">553</text>
    <text x="700" y="642">24</text>
    <text x="499" y="680">140</text>
    <text x="600" y="680">293</text>
    <text x="700" y="680">20</text>

    <!-- t2 header -->
    <text x="95" y="777">型号</text>
    <text x="196" y="777">额定制动力(N)</text>
    <text x="297" y="768.5">制动盘有效半径</text>
    <text x="297" y="785.5">(m)</text>
    <text x="398" y="768.5">额定制动力矩</text>
    <text x="398" y="785.5">(Nm)</text>
    <text x="499" y="768.5">工作气体容量</text>
    <text x="499" y="785.5">(cm³)</text>
    <text x="600" y="768.5">总气体容量</text>
    <text x="600" y="785.5">(cm³)</text>
    <text x="700" y="777">重量(kg)</text>
    <!-- t2 rows -->
    <text x="95" y="815">CQPL12.7A–A</text>
    <text x="196" y="815">1788X工作气压</text>
    <text x="95" y="853">CQPL12.7A–B</text>
    <text x="196" y="853">1055X工作气压</text>
    <text x="297" y="834">制动盘半径–0.03</text>
    <text x="398" y="826" font-size="12">额定制动力X有效</text>
    <text x="398" y="842">半径</text>
    <text x="499" y="815">273</text>
    <text x="600" y="815">553</text>
    <text x="700" y="815">23</text>
    <text x="499" y="853">140</text>
    <text x="600" y="853">293</text>
    <text x="700" y="853">19</text>
  </g>
</svg>

<div class="ttl" style="left:78px;top:50px;font-size:16px;line-height:20px"><span class="sq" style="width:13px;height:12.5px;margin-right:8px;vertical-align:-1px"></span>QPL（CQPL）12.7A型</div>
<div class="ttl" style="left:65px;top:552px;font-size:15px;line-height:20px"><span class="sq" style="width:12px;height:11.5px;margin-right:5px;vertical-align:-1px"></span>QPL12.7A型</div>
<div class="ttl" style="left:65px;top:725px;font-size:15px;line-height:20px"><span class="sq" style="width:12px;height:11.5px;margin-right:5px;vertical-align:-1px"></span>CQPL12.7A型</div>


</body></html>
